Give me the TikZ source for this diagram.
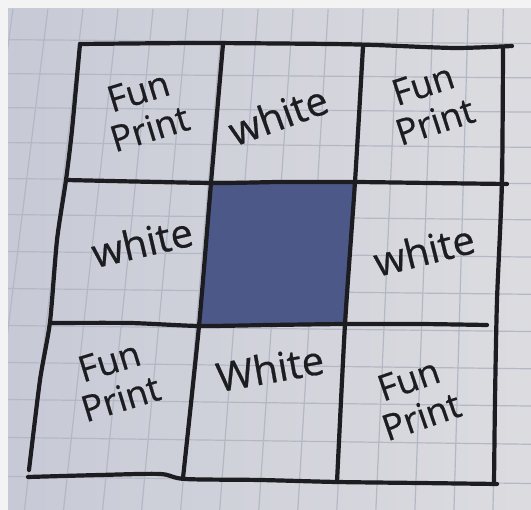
\documentclass[tikz,border=0pt]{standalone}
\usepackage{fontspec}
\setmainfont{Open Sans}
\newfontfamily\handfont{Open Sans}[FakeBold=0.6]
\definecolor{paperL}{HTML}{C7CAD6}
\definecolor{paperR}{HTML}{DCDCE0}
\definecolor{gridc}{HTML}{B4B8C5}
\definecolor{ink}{HTML}{1C1C21}
\definecolor{navy}{HTML}{4B5888}
\definecolor{margin}{HTML}{F3F3F3}
\tikzset{
  gridline/.style={draw=gridc, line width=1.2pt},
  inkline/.style={draw=ink, line width=4.2pt, line cap=round, line join=round},
  hand/.style={text=ink, inner sep=0pt, align=center, font=\handfont\fontsize{36}{39}\selectfont},
  handw/.style={hand, font=\handfont\fontsize{40}{44}\selectfont}
}
\begin{document}
\begin{tikzpicture}[x=1pt,y=-1pt]
\useasboundingbox (0,0) rectangle (531,510);
\fill[margin] (0,0) rectangle (531,510);
\shade[left color=paperL, right color=paperR] (8,9) rectangle (531,510);
% graph paper
\begin{scope}
\clip (8,9) rectangle (531,510);
\foreach \u in {-2,...,14}{
  \pgfmathsetmacro\xt{79+35.3*\u}
  \pgfmathsetmacro\dd{-51+3.5*\u}
  \pgfmathsetmacro\xa{\xt-\dd*0.0778}
  \pgfmathsetmacro\xb{\xt+\dd*1.0686}
  \draw[gridline] (\xa,9) -- (\xb,510);
}
\foreach \y [count=\v] in {40,74,108,143,179,215,252,289,326,363,400,438,477}{
  \pgfmathsetmacro\s{0.007+0.0005*\v}
  \draw[gridline] (0,{\y-50*\s}) -- (531,{\y+481*\s});
}
\end{scope}
% corners and junctions
\coordinate (TL) at (80,44);
\coordinate (TR) at (503,47);
\coordinate (BL) at (28,477);
\coordinate (BR) at (494,484);
\coordinate (A1) at (211,183);
\coordinate (A2) at (355,182);
\coordinate (A3) at (345,324);
\coordinate (A4) at (199,326);
% dark centre square
\fill[navy] (A1) -- (A2) -- (A3) -- (A4) -- cycle;
% outer border
\draw[inkline] plot[smooth, tension=0.4] coordinates {(TL) (200,43) (330,44) (375,45) (455,48) (512,46)};
\draw[inkline] plot[smooth, tension=0.4] coordinates {(TL) (72,130) (66,180) (57,240) (50,322) (40,380) (29,470)};
\draw[inkline] plot[smooth, tension=0.4] coordinates {(TR) (502,182) (497,300) (495,400) (BR)};
\draw[inkline] plot[smooth, tension=0.5] coordinates {(BL) (100,475) (160,474) (185,479) (260,480) (337,482) (420,483) (497,484)};
% inner lines
\draw[inkline] plot[smooth, tension=0.4] coordinates {(66,180) (A1) (280,182) (A2) (430,183) (507,184)};
\draw[inkline] plot[smooth, tension=0.4] coordinates {(52,323) (130,323) (A4) (270,325) (A3) (420,324) (487,325)};
\draw[inkline] plot[smooth, tension=0.4] coordinates {(223,44) (A1) (A4) (183,478)};
\draw[inkline] plot[smooth, tension=0.4] coordinates {(363,47) (A2) (A3) (337,482)};
% labels
\node[hand, rotate=17] (fp1) at (144,110) {Fun\\Print};
\node[handw, rotate=20] (white1) at (278,115) {white};
\node[hand, rotate=18] (fp2) at (429,103) {Fun\\Print};
\node[handw, rotate=13] (white2) at (142,242) {white};
\node[handw, rotate=14] (white3) at (424,250) {white};
\node[hand, rotate=17] (fp3) at (115,380) {Fun\\Print};
\node[handw, rotate=10] (white4) at (270,368) {White};
\node[hand, rotate=19] (fp4) at (415,398) {Fun\\Print};
\end{tikzpicture}
\end{document}
